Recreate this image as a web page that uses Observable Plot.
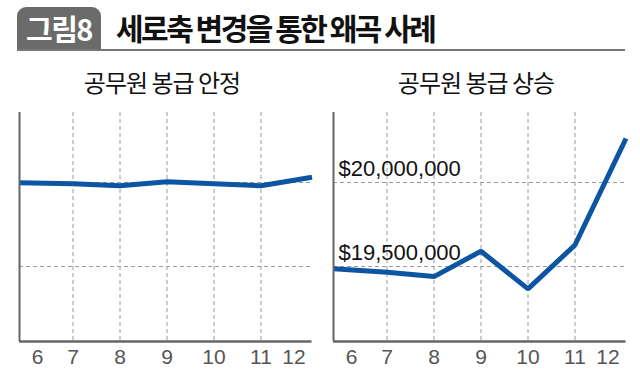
<!DOCTYPE html>
<html>
<head>
<meta charset="utf-8">
<script src="https://cdn.jsdelivr.net/npm/d3@7"></script>
<script src="https://cdn.jsdelivr.net/npm/@observablehq/plot@0.6"></script>
<style>
  html, body { margin: 0; padding: 0; background: #fff; }
  #wrap { position: relative; width: 640px; height: 374px; overflow: hidden; font-family: "Noto Sans CJK KR", sans-serif; }
  #badge { position: absolute; left: 17px; top: 7px; width: 84px; height: 42px; background: #6b6b6b; border-radius: 9px 9px 0 0;
           color: #fff; font-weight: 700; font-size: 29px; line-height: 42px; text-align: center; letter-spacing: -1.5px; }
  #title { position: absolute; left: 116px; top: 9px; font-weight: 700; font-size: 30px; line-height: 36px; letter-spacing: -2.5px; color: #111; white-space: nowrap; }
  #rule { position: absolute; left: 17px; top: 49px; width: 608px; height: 2px; background: #777; }
  .ptitle { position: absolute; top: 67px; width: 260px; text-align: center; font-size: 24px; line-height: 30px; letter-spacing: -1px; color: #111; white-space: nowrap; }
  .panel { position: absolute; top: 100px; }
</style>
</head>
<body>
<div id="wrap">
  <div id="badge">그림8</div>
  <div id="title">세로축 변경을 통한 왜곡 사례</div>
  <div id="rule"></div>
  <div class="ptitle" id="t1" style="left:32px"></div>
  <div class="ptitle" id="t2" style="left:346px"></div>
  <div class="panel" id="p1" style="left:0px"></div>
  <div class="panel" id="p2" style="left:314px"></div>
</div>
<script>
// ---- data ----
const months = [6, 7, 8, 9, 10, 11, 12];
const monthLabels = ["6", "7", "8", "9", "10", "11", "12"];
const stableSalary = [19960000, 19850000, 19610000, 20080000, 19850000, 19610000, 20630000];
const risingSalary = [19486000, 19466000, 19440000, 19591000, 19367000, 19628000, 20262000];
const panelTitles = ["공무원 봉급 안정", "공무원 봉급 상승"];
const stableGridY = [20000000, 10000000];
const risingGridY = [20000000, 19500000];
const risingYLabels = ["$20,000,000", "$19,500,000"];

document.getElementById("t1").textContent = panelTitles[0];
document.getElementById("t2").textContent = panelTitles[1];

const lineColor = "#0b55a3";
const gridColor = "#9a9a9a";
const axisColor = "#666";
const numFont = "Liberation Sans Narrow, Liberation Sans, sans-serif";

function tickText(rows, dx) {
  return Plot.text(rows, {x: "month", text: "label", frameAnchor: "bottom", lineAnchor: "bottom", dy: 22, dx,
    fill: "#555", fontSize: 21, fontFamily: numFont});
}

function panel(values, gridY, yDomain, yLabels) {
  const data = months.map((m, i) => ({month: m, value: values[i], label: monthLabels[i]}));
  const inner = data.filter(d => d.month > 6 && d.month < 12);
  const marks = [
    Plot.ruleX(inner, {x: "month", stroke: gridColor, strokeWidth: 1, strokeDasharray: "4,3"}),
    Plot.ruleY(gridY, {stroke: gridColor, strokeWidth: 1, strokeDasharray: "4,3"}),
    Plot.line(data, {x: "month", y: "value", stroke: lineColor, strokeWidth: 5, strokeLinejoin: "miter", strokeLinecap: "butt"}),
    Plot.ruleX([months[0]], {stroke: axisColor, strokeWidth: 2}),
    Plot.ruleY([yDomain[0]], {stroke: axisColor, strokeWidth: 2.5, x1: months[0], x2: months[months.length - 1]}),
    tickText(inner, 0),
    tickText(data.filter(d => d.month === 6), 18),
    tickText(data.filter(d => d.month === 12), -18)
  ];
  if (yLabels) {
    marks.push(Plot.text(gridY.map((v, i) => ({v, t: yLabels[i]})), {y: "v", text: "t", frameAnchor: "left", textAnchor: "start",
      lineAnchor: "bottom", dx: 5, dy: -7, fill: "#111", fontSize: 22, fontFamily: numFont}));
  }
  return Plot.plot({
    width: 320,
    height: 274,
    marginLeft: 19,
    marginRight: 8,
    marginTop: 12,
    marginBottom: 33,
    x: {type: "linear", domain: [6, 7, 11, 12], range: [19, 72.5, 260.5, 311.5], axis: null},
    y: {type: "linear", domain: yDomain, axis: null},
    style: {background: "transparent", overflow: "visible"},
    marks
  });
}

document.getElementById("p1").append(panel(stableSalary, stableGridY, [1071000, 28333000], null));
document.getElementById("p2").append(panel(risingSalary, risingGridY, [19053600, 20416700], risingYLabels));
</script>
</body>
</html>
